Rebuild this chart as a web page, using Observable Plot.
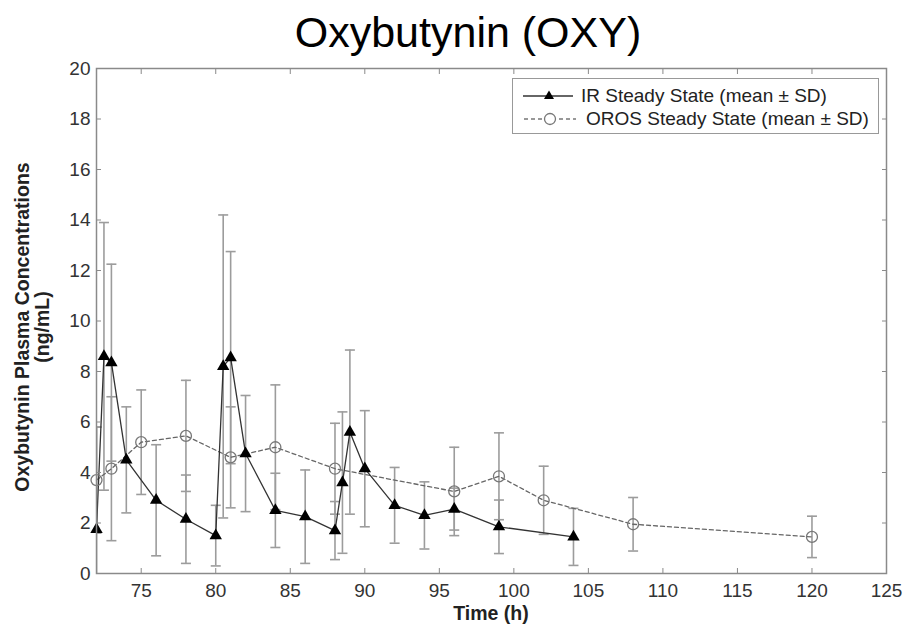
<!DOCTYPE html>
<html><head><meta charset="utf-8">
<script src="https://cdn.jsdelivr.net/npm/d3@7"></script>
<script src="https://cdn.jsdelivr.net/npm/@observablehq/plot@0.6"></script>
<style>
body{margin:0;background:#fff;font-family:"Liberation Sans",Arial,Helvetica,sans-serif;}
#wrap{position:relative;width:905px;height:626px;overflow:hidden;background:#fff;}
#title{position:absolute;left:468px;top:11px;transform:translateX(-50%);font-size:43px;line-height:43px;white-space:nowrap;color:#000;}
#chart{position:absolute;left:0;top:60px;}
#xlabel{position:absolute;left:96px;width:790px;top:604px;text-align:center;font-weight:bold;font-size:19.5px;line-height:19.5px;color:#222;}
#ylabel{position:absolute;left:32px;top:327px;width:420px;transform:translate(-50%,-50%) rotate(-90deg);text-align:center;font-weight:bold;font-size:19.5px;line-height:20px;color:#222;}
#legend{position:absolute;left:512px;top:78px;width:365px;height:54px;border:1px solid #999;background:#fff;}
#legend .row{position:absolute;font-size:19px;line-height:19px;white-space:nowrap;color:#222;}
</style></head><body>
<div id="wrap">
  <div id="title">Oxybutynin (OXY)</div>
  <div id="chart"></div>
  <div id="xlabel">Time (h)</div>
  <div id="ylabel">Oxybutynin Plasma Concentrations<br>(ng/mL)</div>
  <div id="legend">
    <svg width="365" height="54" style="position:absolute;left:0;top:0">
      <line x1="10" x2="60" y1="17" y2="17" stroke="#333" stroke-width="1.3"/>
      <path d="M36,11.5 L41,20 L31,20 Z" fill="#000"/>
      <line x1="11" x2="63" y1="40" y2="40" stroke="#777" stroke-width="1.3" stroke-dasharray="4,3"/>
      <circle cx="37" cy="40" r="5.5" fill="#fff" stroke="#777" stroke-width="1.3"/>
    </svg>
    <div class="row" style="left:68px;top:7px">IR Steady State (mean ± SD)</div>
    <div class="row" style="left:73px;top:30px">OROS Steady State (mean ± SD)</div>
  </div>
</div>
<script>
// IR steady state (mean, SD)
const irTime = [72, 72.5, 73, 74, 76, 78, 80, 80.5, 81, 82, 84, 86, 88, 88.5, 89, 90, 92, 94, 96, 99, 104];
const irMean = [1.75, 8.6, 8.35, 4.5, 2.9, 2.15, 1.5, 8.2, 8.55, 4.75, 2.5, 2.25, 1.7, 3.6, 5.6, 4.15, 2.7, 2.3, 2.55, 1.85, 1.45];
const irSD   = [4.05, 5.3, 3.9, 2.1, 2.2, 1.75, 1.2, 6.0, 4.2, 2.3, 1.47, 1.85, 1.15, 2.8, 3.25, 2.3, 1.5, 1.33, 0.83, 1.06, 1.13];
// OROS steady state (mean, SD)
const orosTime = [72, 73, 75, 78, 81, 84, 88, 96, 99, 102, 108, 120];
const orosMean = [3.7, 4.15, 5.2, 5.45, 4.6, 5.0, 4.15, 3.25, 3.85, 2.9, 1.95, 1.45];
const orosSD   = [2.1, 2.85, 2.07, 2.2, 2.0, 2.47, 1.8, 1.75, 1.72, 1.35, 1.06, 0.82];
// ticks
const xTicks = [75, 80, 85, 90, 95, 100, 105, 110, 115, 120, 125];
const yTicks = [0, 2, 4, 6, 8, 10, 12, 14, 16, 18, 20];

const ir = irTime.map((t, i) => ({t, m: irMean[i], sd: irSD[i]}));
const oros = orosTime.map((t, i) => ({t, m: orosMean[i], sd: orosSD[i]}));

const cap = {draw(ctx, size) { const w = Math.sqrt(size / Math.PI); ctx.moveTo(-w, 0); ctx.lineTo(w, 0); }};
const errCol = "#9c9c9c";
function errorBars(data) {
  return [
    Plot.ruleX(data, {x: "t", y1: d => d.m - d.sd, y2: d => d.m + d.sd, stroke: errCol, strokeWidth: 1.6, clip: true}),
    Plot.dot(data, {x: "t", y: d => d.m + d.sd, symbol: cap, r: 5, stroke: errCol, strokeWidth: 1.6, clip: true}),
    Plot.dot(data, {x: "t", y: d => d.m - d.sd, symbol: cap, r: 5, stroke: errCol, strokeWidth: 1.6, clip: true})
  ];
}
const blank = () => "";
const chart = Plot.plot({
  width: 905, height: 566,
  marginTop: 8, marginBottom: 53, marginLeft: 96, marginRight: 19,
  x: {domain: [72, 125]},
  y: {domain: [0, 20]},
  style: {fontFamily: "'Liberation Sans', Arial, sans-serif", fontSize: "19px", background: "white", overflow: "visible"},
  marks: [
    ...errorBars(oros),
    ...errorBars(ir),
    Plot.line(oros, {x: "t", y: "m", stroke: "#666", strokeWidth: 1.3, strokeDasharray: "4,3"}),
    Plot.line(ir, {x: "t", y: "m", stroke: "#333", strokeWidth: 1.3}),
    Plot.dot(oros, {x: "t", y: "m", r: 5.5, stroke: "#777", fill: "none", strokeWidth: 1.3}),
    Plot.dot(ir, {x: "t", y: "m", symbol: "triangle", r: 4.6, fill: "black", stroke: "none"}),
    Plot.frame({stroke: "#8a8a8a", strokeWidth: 1.5}),
    Plot.axisX(xTicks, {anchor: "bottom", tickSize: -5, tickFormat: blank, label: null, stroke: "#8a8a8a"}),
    Plot.axisX(xTicks, {anchor: "top", tickSize: -5, tickFormat: blank, label: null, stroke: "#8a8a8a"}),
    Plot.axisY(yTicks, {anchor: "left", tickSize: -5, tickFormat: blank, label: null, stroke: "#8a8a8a"}),
    Plot.axisY(yTicks, {anchor: "right", tickSize: -5, tickFormat: blank, label: null, stroke: "#8a8a8a"}),
    Plot.axisX(xTicks, {anchor: "bottom", tickSize: 0, tickPadding: 10, label: null, fill: "#333", fontSize: 19}),
    Plot.axisY(yTicks, {anchor: "left", tickSize: 0, tickPadding: 6, label: null, fill: "#333", fontSize: 19})
  ]
});
document.getElementById("chart").appendChild(chart);
</script>
</body></html>
